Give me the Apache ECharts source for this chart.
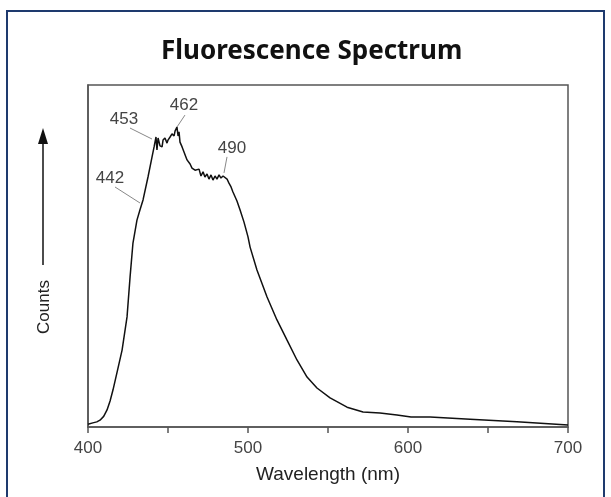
<!DOCTYPE html>
<html>
<head>
<meta charset="utf-8">
<title>Fluorescence Spectrum</title>
<script src="https://cdn.jsdelivr.net/npm/echarts@6/dist/echarts.min.js"></script>
<style>
  html, body { margin: 0; padding: 0; background: #fff; }
  #chart { width: 611px; height: 497px; }
</style>
</head>
<body>
<div id="chart"></div>
<script>
// spectrum (nm / relative counts)
var wavelengths = [400, 403, 405.5, 407.5, 409.8, 411.9, 413.8, 415.6, 418.5, 421.3, 424.4, 426.3, 428.1,
  430.6, 432.5, 434.4, 437.5, 440.0, 441.3, 442.5, 443.1, 443.8, 445.0,
  446.3, 446.9, 448.1, 449.4, 450.0, 451.3, 452.5, 453.8, 454.4, 455.6,
  456.3, 456.9, 457.5, 458.8, 460.0, 461.9, 463.8, 465.0, 466.9, 468.1,
  469.4, 470.6, 471.9, 473.1, 474.4, 475.6, 476.9, 478.1, 479.4, 480.6,
  481.9, 483.1, 484.4, 485.6, 486.9, 488.1, 489.4, 490.6, 493.1, 495.0,
  497.5, 500.0, 501.3, 505.6, 511.9, 518.1, 524.4, 530.6, 536.9, 543.1,
  551.3, 561.9, 571.9, 582.5, 593.1, 601.9, 613.8, 638.8, 668.1, 700];
var counts = [0.8, 1.2, 1.5, 2.0, 3.1, 5.0, 7.6, 10.8, 16.7, 22.5, 32.2, 43.9, 53.8,
  60.5, 63.5, 66.4, 73.1, 78.9, 81.9, 84.8, 81.0, 84.5, 82.2,
  81.9, 83.9, 84.5, 83.0, 83.9, 84.8, 85.7, 85.1, 86.5, 87.7,
  85.1, 86.3, 83.3, 81.9, 80.4, 78.1, 76.9, 75.7, 75.1, 74.6,
  75.4, 73.4, 74.6, 73.1, 74.0, 72.5, 73.7, 72.2, 73.4, 72.5,
  73.7, 72.8, 73.4, 73.1, 72.5, 71.3, 70.2, 68.7, 66.1, 63.5,
  59.9, 55.6, 52.6, 45.9, 38.0, 31.3, 25.4, 19.6, 14.6, 11.4,
  8.5, 5.8, 4.4, 4.1, 3.5, 2.9, 2.9, 2.3, 1.5, 0.6];

// peak annotations: label text, where the leader touches the curve
var peakLabels = ['442', '453', '462', '490'];
var peakX = [432.5, 440.0, 455.6, 485.0];
var peakY = [65.5, 84.2, 87.7, 74.3];

var xTicks = [400, 500, 600, 700];

// leader/label pixel offsets from the curve point
var labelOffsets = {
  '442': { line: [-25, -16], text: [-30, -25] },
  '453': { line: [-22, -11], text: [-28, -20] },
  '462': { line: [8, -12], text: [7, -22] },
  '490': { line: [3, -16], text: [8, -25] }
};

var spectrum = [];
for (var i = 0; i < wavelengths.length; i++) {
  spectrum.push([wavelengths[i], counts[i]]);
}
var peaks = [];
for (var j = 0; j < peakLabels.length; j++) {
  peaks.push([peakX[j], peakY[j], peakLabels[j]]);
}

var axisColor = '#555';
var font = '"Liberation Sans", Arial, sans-serif';

var myChart = echarts.init(document.getElementById('chart'));
var option = {
  animation: false,
  backgroundColor: '#fff',
  title: {
    text: 'Fluorescence Spectrum',
    left: 156,
    top: 34,
    textStyle: { fontFamily: '"Noto Sans", sans-serif', fontWeight: 'bold', fontSize: 26, color: '#111' }
  },
  grid: {
    left: 88, right: 43, top: 85, bottom: 70,
    show: true, borderColor: axisColor, borderWidth: 1.5
  },
  xAxis: {
    type: 'value',
    min: 400, max: 700, interval: 50,
    name: 'Wavelength (nm)',
    nameLocation: 'middle',
    nameGap: 38,
    nameTextStyle: { fontFamily: font, fontSize: 19, color: '#222' },
    axisLine: { lineStyle: { color: axisColor, width: 1.5 } },
    axisTick: { length: 6, lineStyle: { color: axisColor, width: 1.5 } },
    axisLabel: {
      margin: 13,
      fontFamily: font, fontSize: 17, color: '#444',
      formatter: function (v) { return xTicks.indexOf(v) >= 0 ? String(v) : ''; }
    },
    splitLine: { show: false }
  },
  yAxis: {
    type: 'value',
    min: 0, max: 100,
    axisLine: { show: true, lineStyle: { color: axisColor, width: 1.5 } },
    axisTick: { show: false },
    axisLabel: { show: false },
    splitLine: { show: false }
  },
  graphic: [
    // outer frame
    {
      type: 'rect', silent: true,
      shape: { x: 7, y: 11, width: 597, height: 520 },
      style: { fill: 'none', stroke: '#1e3a6e', lineWidth: 2 }
    },
    // "Counts" with upward arrow
    {
      type: 'line', silent: true,
      shape: { x1: 43, y1: 265, x2: 43, y2: 140 },
      style: { stroke: '#111', lineWidth: 1.5 }
    },
    {
      type: 'polygon', silent: true,
      shape: { points: [[43, 128], [38, 144], [48, 144]] },
      style: { fill: '#111' }
    },
    {
      type: 'text', silent: true,
      x: 44, y: 307, rotation: Math.PI / 2,
      style: { text: 'Counts', font: '17px ' + font, fill: '#222', align: 'center', verticalAlign: 'middle' }
    }
  ],
  series: [
    {
      type: 'line',
      data: spectrum,
      symbol: 'none',
      smooth: false,
      lineStyle: { color: '#111', width: 1.5 }
    },
    {
      type: 'custom',
      data: peaks,
      z: 5,
      renderItem: function (params, api) {
        var p = api.coord([api.value(0), api.value(1)]);
        var name = peakLabels[params.dataIndex];
        var off = labelOffsets[name];
        return {
          type: 'group',
          children: [
            {
              type: 'line',
              shape: { x1: p[0] + off.line[0], y1: p[1] + off.line[1], x2: p[0], y2: p[1] },
              style: { stroke: '#888', lineWidth: 1 }
            },
            {
              type: 'text',
              x: p[0] + off.text[0], y: p[1] + off.text[1],
              style: { text: name, font: '17px ' + font, fill: '#444', align: 'center', verticalAlign: 'middle' }
            }
          ]
        };
      }
    }
  ]
};
myChart.setOption(option);
</script>
</body>
</html>
